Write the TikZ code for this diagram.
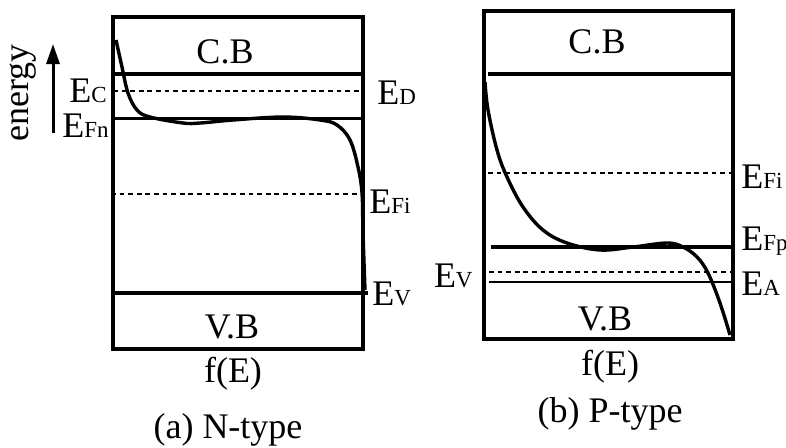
\documentclass[tikz,border=0pt]{standalone}
\usepackage{fontspec}
\setmainfont{Liberation Serif}
\usetikzlibrary{arrows.meta}
% energy level label: E with small upright index on the baseline
\newcommand{\lvl}[1]{E{\fontsize{11.5}{13}\selectfont #1}}
\tikzset{
  frame/.style={line width=1.8pt},
  level/.style={line width=1.6pt},
  dlevel/.style={line width=0.9pt, dash pattern=on 2.4pt off 1.9pt},
  fermi/.style={line width=1.7pt, line join=round},
}
\begin{document}
\begin{tikzpicture}[x=0.5pt,y=-0.5pt,
  every node/.style={inner sep=0pt, font=\fontsize{18}{20}\selectfont}]
\useasboundingbox (0,0) rectangle (786,447);

% (a) N-type
\draw[frame] (113,17) rectangle (363,349);
\draw[level] (111,74) -- (363,74);
\draw[dlevel] (113,91) -- (360,91);
\draw[level, line width=1.5pt] (113,118) -- (363,118);
\draw[dlevel] (111,194) -- (360,194);
\draw[level, line width=2.1pt] (111,293) -- (368,293);
\draw[fermi] plot[smooth, tension=0.6] coordinates {(116,40) (122,67) (128,93) (137,110)
  (150,117) (183,123) (200,123) (233,120) (283,117) (320,120) (337,125) (350,140)
  (358,167) (362,193) (363,233) (365,290)};
\node (cba) at (225,63) [anchor=base] {C.B};
\node (vba) at (232,338) [anchor=base] {V.B};
\node (fea) at (233,382) [anchor=base] {f(E)};
\node (capa) at (228,438) [anchor=base] {(a) N-type};
\node (eca) at (107,102) [anchor=base east] {\lvl{C}};
\node (efn) at (109,137) [anchor=base east] {\lvl{Fn}};
\node (eda) at (377,104) [anchor=base west] {\lvl{D}};
\node (efia) at (369,213) [anchor=base west] {\lvl{Fi}};
\node (eva) at (372,305) [anchor=base west] {\lvl{V}};
\node (en) at (28,93) [anchor=base, rotate=90, text height=1.2ex] {energy};
\draw[line width=1.5pt, -{Triangle[length=10pt,width=6.5pt]}] (53,133) -- (53,44);

% (b) P-type
\draw[frame] (484,11) rectangle (733,339);
\draw[level] (488,74) -- (733,74);
\draw[dlevel] (488,173) -- (733,173);
\draw[level] (491,247) -- (733,247);
\draw[dlevel] (489,272) -- (733,272);
\draw[level, line width=1.2pt] (489,282) -- (733,282);
\draw[fermi] plot[smooth, tension=0.6] coordinates {(485,82) (488,110) (497,150) (507,177)
  (523,207) (543,230) (567,243) (600,250) (633,247) (667,243) (683,247) (697,257)
  (708,273) (720,303) (730,335)};
\node (cbb) at (597,53) [anchor=base] {C.B};
\node (vbb) at (605,330) [anchor=base] {V.B};
\node (feb) at (610,375) [anchor=base] {f(E)};
\node (capb) at (610,422) [anchor=base] {(b) P-type};
\node (efib) at (741,188) [anchor=base west] {\lvl{Fi}};
\node (efp) at (741,250) [anchor=base west] {\lvl{Fp}};
\node (eab) at (741,295) [anchor=base west] {\lvl{A}};
\node (evb) at (473,287) [anchor=base east] {\lvl{V}};
\end{tikzpicture}
\end{document}
